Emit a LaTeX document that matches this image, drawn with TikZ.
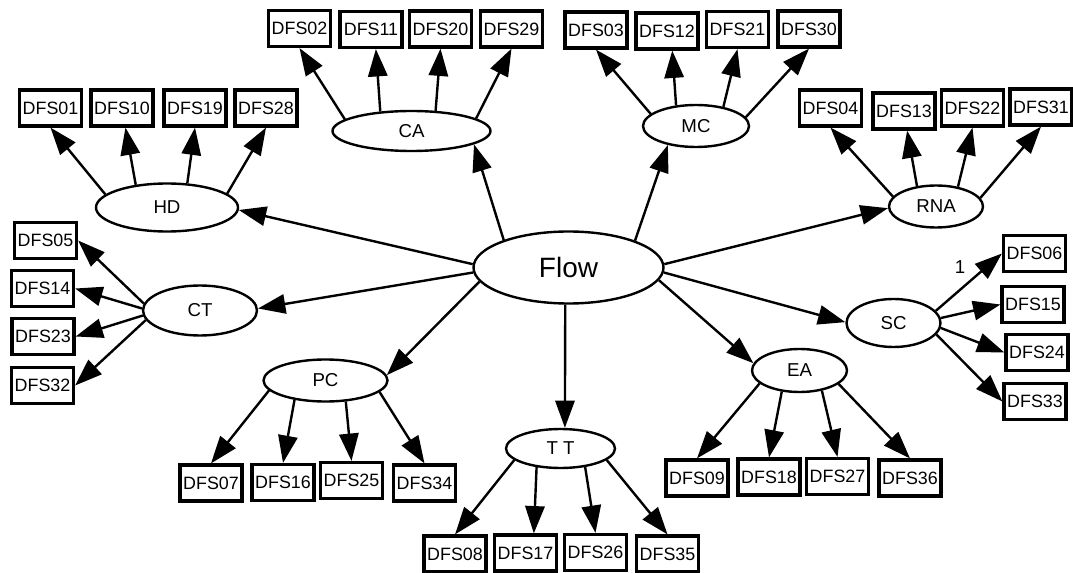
\documentclass[tikz,border=0pt]{standalone}
\usepackage{fontspec}
\setmainfont{Liberation Sans}
\usetikzlibrary{arrows.meta,shapes.geometric}
\begin{document}
\begin{tikzpicture}[x=0.75pt,y=-0.75pt,
  box/.style={draw,line width=2.4pt,minimum width=46.5pt,minimum height=27pt,
    inner sep=0pt,font=\fontsize{13.4}{15}\selectfont},
  hub/.style={draw,ellipse,line width=1.8pt,inner sep=0pt,
    font=\fontsize{14}{16}\selectfont},
  link/.style={line width=1.8pt,-{Triangle[length=20.5pt,width=14.5pt]}}]
\useasboundingbox[fill=white] (0,0) rectangle (1073,573);

% central factor
\node[hub,minimum width=142.5pt,minimum height=54pt,font=\fontsize{21}{25}\selectfont] (Flow) at (568.5,267.5) {Flow};

% first-level factors
\node[hub,minimum width=106.5pt,minimum height=36pt]   (HD)  at (167,207.5)   {HD};
\node[hub,minimum width=118.5pt,minimum height=30pt]   (CA)  at (411.5,131)   {CA};
\node[hub,minimum width=79.5pt,minimum height=31.5pt]  (MC)  at (696,126)     {MC};
\node[hub,minimum width=70.5pt,minimum height=31.5pt]  (RNA) at (936,206.5)   {RNA};
\node[hub,minimum width=85.5pt,minimum height=37.5pt]  (CT)  at (200,310.5)   {CT};
\node[hub,minimum width=70.5pt,minimum height=36pt]    (SC)  at (893.5,323)   {SC};
\node[hub,minimum width=93pt,minimum height=31.5pt]    (PC)  at (325.5,380.5) {PC};
\node[hub,minimum width=81.75pt,minimum height=29.25pt](TT)  at (560.5,448.5) {T T};
\node[hub,minimum width=71.25pt,minimum height=32.25pt](EA)  at (799.5,370.5) {EA};

% indicator boxes
\node[box] (b01) at (50.5,108)  {DFS01};
\node[box] (b10) at (122,108)   {DFS10};
\node[box] (b19) at (195,108)   {DFS19};
\node[box] (b28) at (266,108)   {DFS28};
\node[box] (b02) at (299.5,28.5){DFS02};
\node[box] (b11) at (371,29.5)  {DFS11};
\node[box] (b20) at (440.5,29)  {DFS20};
\node[box] (b29) at (511.5,29)  {DFS29};
\node[box] (b03) at (596,30)    {DFS03};
\node[box] (b12) at (667,31)    {DFS12};
\node[box] (b21) at (737.5,29.5){DFS21};
\node[box] (b30) at (809,29)    {DFS30};
\node[box] (b04) at (830.5,108) {DFS04};
\node[box] (b13) at (904,111)   {DFS13};
\node[box] (b22) at (972.5,108) {DFS22};
\node[box] (b31) at (1041,107)  {DFS31};
\node[box] (b05) at (45.5,240.5){DFS05};
\node[box] (b14) at (42.5,288.5){DFS14};
\node[box] (b23) at (43,336.5)  {DFS23};
\node[box] (b32) at (42.5,385.5){DFS32};
\node[box] (b06) at (1034.5,253.5){DFS06};
\node[box] (b15) at (1033,304.5){DFS15};
\node[box] (b24) at (1037,352.5){DFS24};
\node[box] (b33) at (1035,401.5){DFS33};
\node[box] (b07) at (211,483)   {DFS07};
\node[box] (b16) at (283,482.5) {DFS16};
\node[box] (b25) at (351.5,480.5){DFS25};
\node[box] (b34) at (424.5,483) {DFS34};
\node[box] (b08) at (455,554)   {DFS08};
\node[box] (b17) at (525.5,553) {DFS17};
\node[box] (b26) at (595.5,552.5){DFS26};
\node[box] (b35) at (667.5,554) {DFS35};
\node[box] (b09) at (697,478)   {DFS09};
\node[box] (b18) at (769,477)   {DFS18};
\node[box] (b27) at (837.5,476.5){DFS27};
\node[box] (b36) at (910,478)   {DFS36};

% loading label
\node[font=\fontsize{14}{16}\selectfont] (one) at (960,267) {1};

% Flow to first-level factors
\draw[link] (Flow.157.6) -- (CA.348);
\draw[link] (Flow.22.7)  -- (MC.214);
\draw[link] (Flow.178)   -- (HD.358);
\draw[link] (Flow.183)   -- (CT.2.5);
\draw[link] (Flow.189)   -- (PC.5);
\draw[link] (Flow.265)   -- (TT.78);
\draw[link] (Flow.2)     -- (RNA.182);
\draw[link] (Flow.357)   -- (SC.179);
\draw[link] (Flow.352)   -- (EA.171);

% HD
\draw[link] (HD.168) -- (b01.south);
\draw[link] (HD.144) -- (b10.280);
\draw[link] (HD.50)  -- (b19.south);
\draw[link] (HD.13)  -- (b28.south);
% CA
\draw[link] (CA.170) -- (b02.south);
\draw[link] (CA.148) -- (b11.284);
\draw[link] (CA.40)  -- (b20.south);
\draw[link] (CA.11)  -- (b29.south);
% MC
\draw[link] (MC.165) -- (b03.south);
\draw[link] (MC.134) -- (b12.285);
\draw[link] (MC.35)  -- (b21.south);
\draw[link] (MC.10)  -- (b30.south);
% RNA
\draw[link] (RNA.167) -- (b04.south);
\draw[link] (RNA.133) -- (b13.279);
\draw[link] (RNA.42)  -- (b22.south);
\draw[link] (RNA.11)  -- (b31.south);
% CT
\draw[link] (CT.173) -- (b05.east);
\draw[link] (CT.178) -- (b14.east);
\draw[link] (CT.185) -- (b23.east);
\draw[link] (CT.190) -- (b32.east);
% SC
\draw[link] (SC.16)  -- (b06.west);
\draw[link] (SC.6)   -- (b15.west);
\draw[link] (SC.354) -- (b24.west);
\draw[link] (SC.345) -- (b33.west);
% PC
\draw[link] (PC.190) -- (b07.north);
\draw[link] (PC.212) -- (b16.north);
\draw[link] (PC.314) -- (b25.north);
\draw[link] (PC.348) -- (b34.north);
% TT
\draw[link] (TT.194) -- (b08.north);
\draw[link] (TT.218) -- (b17.67);
\draw[link] (TT.323) -- (b26.north);
\draw[link] (TT.346) -- (b35.north);
% EA
\draw[link] (EA.198) -- (b09.north);
\draw[link] (EA.230) -- (b18.north);
\draw[link] (EA.318) -- (b27.north);
\draw[link] (EA.341) -- (b36.north);
\end{tikzpicture}
\end{document}
